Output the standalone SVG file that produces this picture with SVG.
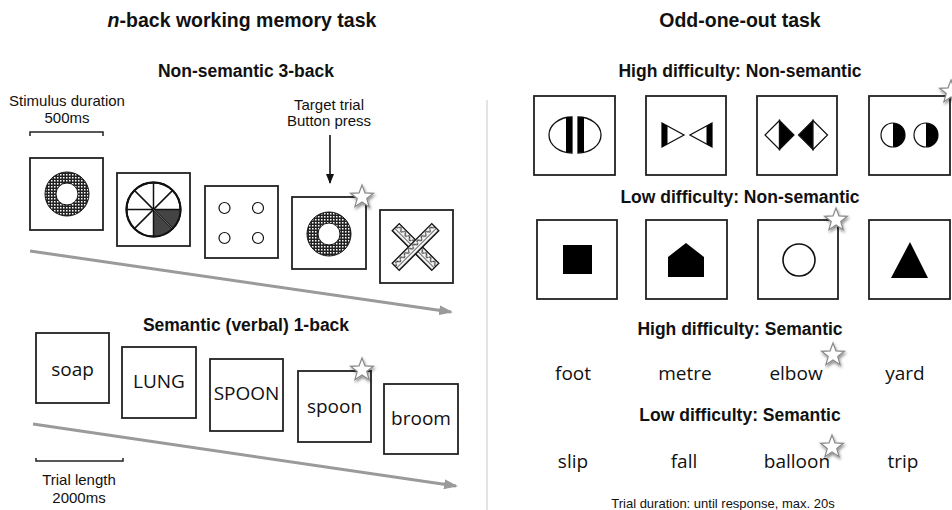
<svg xmlns="http://www.w3.org/2000/svg" width="952" height="510" viewBox="0 0 952 510">
<style>
.t{font-family:"Liberation Sans",Arial,sans-serif;fill:#111;text-anchor:middle}
.h1{font-size:19.5px;font-weight:bold}
.h2{font-size:17.5px;font-weight:bold}
.lab{font-size:15px}
.small{font-size:13px}
.w{font-family:"Open Sans","Noto Sans",sans-serif;font-size:19px;fill:#111;text-anchor:middle}
.box{fill:#fff;stroke:#222;stroke-width:1.8}
.blk{fill:#000;stroke:none}
.ol{fill:#fff;stroke:#111;stroke-width:1.3}
.garrow{stroke:#9a9a9a;stroke-width:3;fill:none}
</style>
<defs>
<pattern id="chk" width="3" height="3" patternUnits="userSpaceOnUse">
<rect width="3" height="3" fill="#222"/>
<rect width="1.5" height="1.5" fill="#fff"/>
</pattern>
<pattern id="wave" width="6" height="10" patternUnits="userSpaceOnUse">
<rect width="6" height="10" fill="#f4f4f4"/>
<path d="M0,5 Q1.5,2 3,5 T6,5" fill="none" stroke="#222" stroke-width="1.1"/>
<line x1="0" y1="1.5" x2="6" y2="1.5" stroke="#444" stroke-width="0.8"/>
<line x1="0" y1="8.5" x2="6" y2="8.5" stroke="#444" stroke-width="0.8"/>
</pattern>
<filter id="sh" x="-50%" y="-50%" width="200%" height="200%">
<feDropShadow dx="1" dy="2" stdDeviation="1.6" flood-color="#000" flood-opacity="0.45"/>
</filter>
<path id="star" d="M0,-12 L2.94,-4.05 L11.41,-3.71 L4.76,1.55 L7.05,9.71 L0,5 L-7.05,9.71 L-4.76,1.55 L-11.41,-3.71 L-2.94,-4.05 Z" fill="#fff" stroke="#888" stroke-width="1.2" filter="url(#sh)"/>
<marker id="gm" markerWidth="14" markerHeight="10" refX="12" refY="5" orient="auto" markerUnits="userSpaceOnUse">
<path d="M0,0 L14,5 L0,10 Z" fill="#9a9a9a"/>
</marker>
<marker id="bm" markerWidth="10" markerHeight="10" refX="9" refY="4" orient="auto" markerUnits="userSpaceOnUse">
<path d="M0,0 L10,4 L0,8 Z" fill="#111"/>
</marker>
</defs>
<rect width="952" height="510" fill="#fff"/>

<!-- divider -->
<line x1="487" y1="100" x2="487" y2="510" stroke="#e4e4e4" stroke-width="2"/>

<!-- Left panel headings -->
<text class="t h1" x="242" y="27"><tspan font-style="italic">n</tspan>-back working memory task</text>
<text class="t h2" x="246" y="77">Non-semantic 3-back</text>
<text class="t lab" x="67" y="106">Stimulus duration</text>
<text class="t lab" x="67" y="123">500ms</text>
<text class="t lab" x="329" y="110">Target trial</text>
<text class="t lab" x="329" y="126">Button press</text>
<text class="t h2" x="246" y="331">Semantic (verbal) 1-back</text>
<text class="t lab" x="79" y="485">Trial length</text>
<text class="t lab" x="79" y="503">2000ms</text>

<!-- connectors -->
<g id="connectors">
<path d="M30,136 L30,132 L103,132 L103,136" fill="none" stroke="#222" stroke-width="1.5"/>
<path d="M36,458 L36,461 L123,461 L123,458" fill="none" stroke="#222" stroke-width="1.5"/>
<line x1="330" y1="135" x2="330" y2="183" stroke="#111" stroke-width="1.6" marker-end="url(#bm)"/>
<line class="garrow" x1="30" y1="251" x2="451" y2="312" marker-end="url(#gm)"/>
<line class="garrow" x1="33" y1="424" x2="456" y2="486" marker-end="url(#gm)"/>
</g>

<!-- Non-semantic 3-back stimuli -->
<g id="nb1">
<rect class="box" x="30" y="158" width="73" height="72"/>
<circle cx="67" cy="194" r="16.5" fill="none" stroke="url(#chk)" stroke-width="11"/>
<circle cx="67" cy="194" r="22" fill="none" stroke="#111" stroke-width="1"/>
<circle cx="67" cy="194" r="11" fill="#fff" stroke="#111" stroke-width="1"/>
</g>
<g id="nb2">
<rect class="box" x="117" y="173" width="73" height="73"/>
<circle cx="153.5" cy="209.5" r="27" fill="#fff" stroke="#111" stroke-width="2"/>
<path d="M153.5,209.5 L180.5,209.5 A27,27 0 0 1 153.5,236.5 Z" fill="#444"/>
<g stroke="#111" stroke-width="1.5">
<line x1="126.5" y1="209.5" x2="180.5" y2="209.5"/>
<line x1="153.5" y1="182.5" x2="153.5" y2="236.5"/>
<line x1="134.4" y1="190.4" x2="172.6" y2="228.6"/>
<line x1="172.6" y1="190.4" x2="134.4" y2="228.6"/>
</g>
<line x1="153.5" y1="209.5" x2="172.6" y2="228.6" stroke="#666" stroke-width="1"/>
<circle cx="153.5" cy="209.5" r="27" fill="none" stroke="#111" stroke-width="2"/>
</g>
<g id="nb3">
<rect class="box" x="205" y="186" width="73" height="72"/>
<g fill="#fff" stroke="#111" stroke-width="1.2">
<circle cx="224.5" cy="208" r="5.5"/>
<circle cx="258" cy="208" r="5.5"/>
<circle cx="224.5" cy="238" r="5.5"/>
<circle cx="258" cy="238" r="5.5"/>
</g>
</g>
<g id="nb4">
<rect class="box" x="292" y="197" width="74" height="72"/>
<circle cx="329" cy="234" r="16.5" fill="none" stroke="url(#chk)" stroke-width="11"/>
<circle cx="329" cy="234" r="22" fill="none" stroke="#111" stroke-width="1"/>
<circle cx="329" cy="234" r="11" fill="#fff" stroke="#111" stroke-width="1"/>
<use href="#star" x="362" y="197"/>
</g>
<g id="nb5">
<rect class="box" x="380" y="210" width="73" height="73"/>
<rect x="387.5" y="242" width="56" height="10" fill="url(#wave)" stroke="#111" stroke-width="1.3" transform="rotate(45 415.5 247)"/>
<rect x="387.5" y="242" width="56" height="10" fill="url(#wave)" stroke="#111" stroke-width="1.3" transform="rotate(-45 415.5 247)"/>
</g>

<!-- Semantic 1-back -->
<g id="sb1"><rect class="box" x="36" y="333" width="73" height="70"/><text class="w" x="72.5" y="376">soap</text></g>
<g id="sb2"><rect class="box" x="122" y="347" width="74" height="71"/><text class="w" x="159" y="388">LUNG</text></g>
<g id="sb3"><rect class="box" x="210" y="359" width="73" height="72"/><text class="w" x="246.5" y="400">SPOON</text></g>
<g id="sb4"><rect class="box" x="298" y="371" width="73" height="71"/><text class="w" x="334.5" y="413">spoon</text><use href="#star" x="362" y="370"/></g>
<g id="sb5"><rect class="box" x="384" y="384" width="74" height="70"/><text class="w" x="421" y="425">broom</text></g>

<!-- Right panel -->
<text class="t h1" x="740" y="27">Odd-one-out task</text>
<text class="t h2" x="740" y="77">High difficulty: Non-semantic</text>
<text class="t h2" x="740" y="203">Low difficulty: Non-semantic</text>
<text class="t h2" x="740" y="335">High difficulty: Semantic</text>
<text class="t h2" x="740" y="421">Low difficulty: Semantic</text>
<text class="t small" x="723" y="508">Trial duration: until response, max. 20s</text>

<g id="hn1">
<rect class="box" x="534" y="96" width="81" height="79"/>
<path class="ol" d="M572,117 A23,18 0 0 0 572,153 Z"/>
<rect class="blk" x="566" y="117.5" width="6" height="35"/>
<path class="ol" d="M578,117 A23,18 0 0 1 578,153 Z"/>
<rect class="blk" x="578" y="117.5" width="6" height="35"/>
</g>
<g id="hn2">
<rect class="box" x="646" y="96" width="80" height="79"/>
<path class="ol" d="M662,123 L684,135 L662,147 Z"/>
<path class="blk" d="M662,123 L667.5,126 L667.5,144 L662,147 Z"/>
<path class="ol" d="M712,123 L690,135 L712,147 Z"/>
<path class="blk" d="M712,123 L706.5,126 L706.5,144 L712,147 Z"/>
</g>
<g id="hn3">
<rect class="box" x="757" y="96" width="80" height="79"/>
<path d="M779.5,120.5 L765,135 L779.5,149.5 Z" fill="#fff" stroke="#111" stroke-width="1.2"/>
<path d="M779.5,120.5 L794,135 L779.5,149.5 Z" fill="#000" stroke="#111" stroke-width="1.2"/>
<path d="M813,120.5 L798.5,135 L813,149.5 Z" fill="#000" stroke="#111" stroke-width="1.2"/>
<path d="M813,120.5 L827.5,135 L813,149.5 Z" fill="#fff" stroke="#111" stroke-width="1.2"/>
</g>
<g id="hn4">
<rect class="box" x="869" y="96" width="81" height="79"/>
<circle cx="893" cy="135" r="12" fill="#fff" stroke="#111" stroke-width="1.2"/>
<path d="M893,123 A12,12 0 0 1 893,147 Z" fill="#000"/>
<circle cx="926" cy="135" r="12" fill="#fff" stroke="#111" stroke-width="1.2"/>
<path d="M926,123 A12,12 0 0 1 926,147 Z" fill="#000"/>
<use href="#star" x="951" y="92"/>
</g>

<g id="ln1">
<rect class="box" x="537" y="220" width="80" height="79"/>
<rect class="blk" x="563" y="245" width="29" height="29"/>
</g>
<g id="ln2">
<rect class="box" x="646" y="220" width="81" height="79"/>
<path class="blk" d="M686,243 L704,257 L704,277 L668,277 L668,257 Z"/>
</g>
<g id="ln3">
<rect class="box" x="758" y="220" width="80" height="79"/>
<circle cx="799" cy="260" r="16" fill="#fff" stroke="#111" stroke-width="1.6"/>
<use href="#star" x="836" y="220"/>
</g>
<g id="ln4">
<rect class="box" x="869" y="220" width="81" height="79"/>
<path class="blk" d="M910,242 L928,278 L891,278 Z"/>
</g>

<g id="hs">
<text class="w" x="573" y="380">foot</text>
<text class="w" x="685" y="380">metre</text>
<text class="w" x="796" y="380">elbow</text>
<text class="w" x="905" y="380">yard</text>
<use href="#star" x="833" y="355"/>
</g>
<g id="ls">
<text class="w" x="573" y="468">slip</text>
<text class="w" x="684" y="468">fall</text>
<text class="w" x="797" y="468">balloon</text>
<text class="w" x="903" y="468">trip</text>
<use href="#star" x="832" y="447"/>
</g>
</svg>
